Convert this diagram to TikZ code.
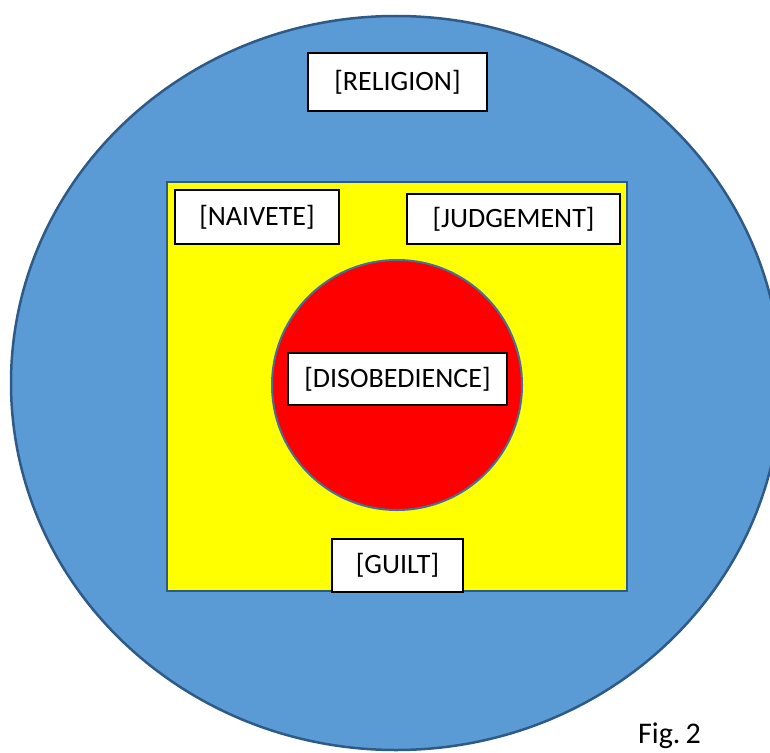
\documentclass[tikz,border=0pt]{standalone}
\usepackage{fontspec}
\setmainfont{Carlito}
\definecolor{bluefill}{HTML}{5B9BD5}
\definecolor{blueline}{HTML}{2E5A87}
\definecolor{redline}{HTML}{41719C}
\definecolor{pureyellow}{HTML}{FFFF00}
\tikzset{
  label box/.style={draw=black, line width=2pt, fill=white, inner sep=0pt,
    font=\fontsize{28}{33}\selectfont, text=black},
}
\begin{document}
\begin{tikzpicture}[x=1pt,y=-1pt]
\useasboundingbox (0,0) rectangle (770,752);
\fill[white] (0,0) rectangle (770,752);
\begin{scope}
\clip (0,0) rectangle (770,752);
\draw[fill=bluefill, draw=blueline, line width=2.5pt] (396,383) ellipse [x radius=385, y radius=367];
\end{scope}
\draw[fill=pureyellow, draw=blueline, line width=2.5pt] (167,182) rectangle (627,591);
\draw[fill=red, draw=redline, line width=2pt] (397,385) circle [radius=125];
\node[label box, minimum width=179pt, minimum height=58pt] (religion) at (397.5,82) {[RELIGION]};
\node[label box, minimum width=164pt, minimum height=54pt] (naivete) at (257,217) {[NAIVETE]};
\node[label box, minimum width=213pt, minimum height=50pt] (judgement) at (513.5,219) {[JUDGEMENT]};
\node[label box, minimum width=219pt, minimum height=52pt] (disobedience) at (397.5,379) {[DISOBEDIENCE]};
\node[label box, minimum width=131pt, minimum height=53pt] (guilt) at (397.5,565.5) {[GUILT]};
\node[font=\fontsize{30}{36}\selectfont, inner sep=0pt, anchor=base west] (fig) at (638,743) {Fig.\,2};
\end{tikzpicture}
\end{document}
